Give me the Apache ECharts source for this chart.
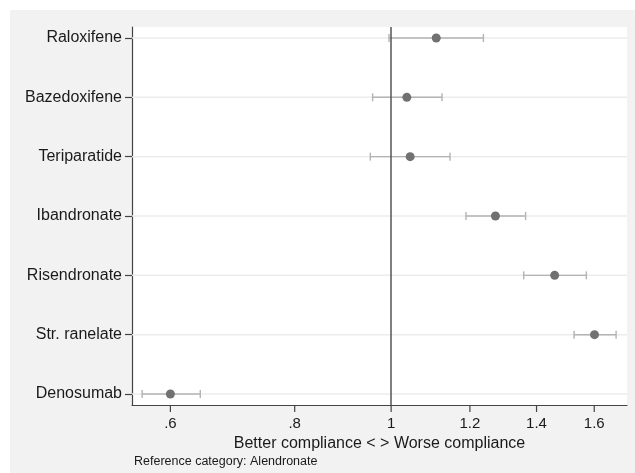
<!DOCTYPE html>
<html>
<head>
    <meta charset="UTF-8">
    <title>Compliance vs Alendronate</title>
    <script src="https://cdn.jsdelivr.net/npm/echarts@6/dist/echarts.min.js"></script>
    <style>
        html, body { margin: 0; padding: 0; background: #fff; }
    </style>
</head>
<body>
<div id="main" style="width: 635px;height:473px;"></div>

<script type="text/javascript">
    // drugs, top to bottom
    var drugs = ['Raloxifene', 'Bazedoxifene', 'Teriparatide', 'Ibandronate', 'Risendronate', 'Str. ranelate', 'Denosumab'];
    // ratio estimate and 95% CI
    var estimate = [1.110, 1.037, 1.045, 1.273, 1.460, 1.601, 0.600];
    var lower    = [0.995, 0.958, 0.953, 1.189, 1.359, 1.527, 0.562];
    var upper    = [1.238, 1.125, 1.146, 1.365, 1.571, 1.683, 0.643];
    // x ticks (log scale)
    var xTicks = [0.6, 0.8, 1, 1.2, 1.4, 1.6];
    var xTickLabels = ['.6', '.8', '1', '1.2', '1.4', '1.6'];

    var ln = Math.log;
    var font = 'Liberation Sans, Arial, Helvetica, sans-serif';

    var pointData = [], barData = [], gridData = [];
    for (var i = 0; i < drugs.length; i++) {
        pointData.push([ln(estimate[i]), i + 1]);
        barData.push([ln(lower[i]), ln(upper[i]), i + 1]);
        gridData.push([0, i + 1]);
    }
    var xTickVals = xTicks.map(function (v) { return ln(v); });
    var tickData = xTickVals.map(function (v) { return [v, 7]; });

    var chart = echarts.init(document.getElementById('main'));

    var option = {
        backgroundColor: '#f2f2f2',
        animation: false,
        textStyle: { fontFamily: font },
        graphic: [{
            // white margin strips (top and left)
            type: 'rect', silent: true,
            shape: { x: 0, y: 0, width: 635, height: 10 },
            style: { fill: '#ffffff' }
        }, {
            type: 'rect', silent: true,
            shape: { x: 0, y: 0, width: 10, height: 473 },
            style: { fill: '#ffffff' }
        }, {
            type: 'text', left: 134, top: 455,
            style: { text: 'Reference category: Alendronate', font: '12.5px ' + font, fill: '#1a1a1a' }
        }],
        grid: {
            left: 132, right: 8, top: 27, bottom: 68,
            show: true, backgroundColor: '#ffffff', borderWidth: 0
        },
        xAxis: {
            type: 'value',
            min: ln(0.549), max: ln(1.726),
            name: 'Better compliance < > Worse compliance',
            nameLocation: 'middle', nameGap: 30,
            nameTextStyle: { fontSize: 16, color: '#1a1a1a' },
            axisLine: { show: true, onZero: false, lineStyle: { color: '#444', width: 1.2 } },
            axisTick: { show: false },
            axisLabel: {
                fontSize: 15, color: '#1a1a1a', margin: 11, hideOverlap: false,
                customValues: xTickVals,
                formatter: function (v) {
                    for (var k = 0; k < xTicks.length; k++) {
                        if (Math.abs(xTickVals[k] - v) < 1e-6) return xTickLabels[k];
                    }
                    return '';
                }
            },
            splitLine: { show: false }
        },
        yAxis: {
            type: 'value',
            inverse: true,
            min: 0.815, max: 7.185,
            axisLine: { show: true, onZero: false, lineStyle: { color: '#444', width: 1.2 } },
            axisTick: { show: true, length: 7, lineStyle: { color: '#444', width: 1.2 },
                customValues: [1, 2, 3, 4, 5, 6, 7] },
            axisLabel: {
                fontSize: 16, color: '#1a1a1a', margin: 10,
                customValues: [1, 2, 3, 4, 5, 6, 7],
                formatter: function (v) { return drugs[Math.round(v) - 1] || ''; }
            },
            splitLine: { show: false }
        },
        series: [
            {
                // horizontal grid lines at each drug
                type: 'custom',
                z: 1,
                silent: true,
                renderItem: function (params, api) {
                    var y = api.coord([0, api.value(1)])[1];
                    var cs = params.coordSys;
                    return {
                        type: 'line',
                        shape: { x1: cs.x, y1: y, x2: cs.x + cs.width, y2: y },
                        style: { stroke: '#ececec', lineWidth: 1.5 }
                    };
                },
                encode: { x: 0, y: 1 },
                data: gridData
            },
            {
                // x axis ticks hanging below the plot
                type: 'custom',
                zlevel: 1,
                z: 50,
                silent: true,
                clip: false,
                renderItem: function (params, api) {
                    var x = api.coord([api.value(0), api.value(1)])[0];
                    var cs = params.coordSys;
                    var y0 = cs.y + cs.height;
                    return {
                        type: 'rect',
                        shape: { x: x - 0.6, y: y0, width: 1.2, height: 7 },
                        style: { fill: '#444' }
                    };
                },
                encode: { x: 0, y: 1 },
                data: tickData
            },
            {
                // confidence intervals
                type: 'custom',
                z: 3,
                silent: true,
                renderItem: function (params, api) {
                    var y = api.value(2);
                    var a = api.coord([api.value(0), y]);
                    var b = api.coord([api.value(1), y]);
                    var h = 4;
                    var st = { stroke: '#b3b3b3', lineWidth: 1.4 };
                    return {
                        type: 'group',
                        children: [
                            { type: 'line', shape: { x1: a[0], y1: a[1], x2: b[0], y2: b[1] }, style: st },
                            { type: 'line', shape: { x1: a[0], y1: a[1] - h, x2: a[0], y2: a[1] + h }, style: st },
                            { type: 'line', shape: { x1: b[0], y1: b[1] - h, x2: b[0], y2: b[1] + h }, style: st }
                        ]
                    };
                },
                encode: { x: [0, 1], y: 2 },
                data: barData
            },
            {
                type: 'scatter',
                z: 4,
                symbol: 'circle',
                symbolSize: 9,
                itemStyle: { color: '#717171', opacity: 1 },
                data: pointData,
                markLine: {
                    silent: true,
                    symbol: 'none',
                    label: { show: false },
                    lineStyle: { color: '#555', width: 1.5, type: 'solid' },
                    data: [{ xAxis: 0 }]
                }
            }
        ]
    };

    chart.setOption(option);
</script>
</body>
</html>
